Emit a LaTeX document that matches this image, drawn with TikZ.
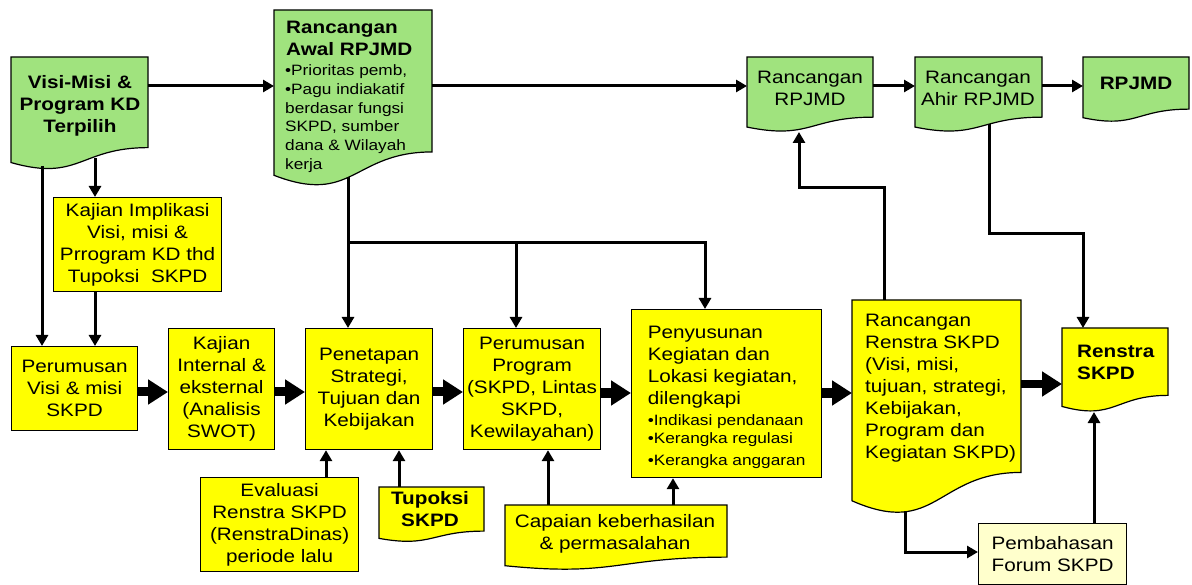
\documentclass[tikz,border=0pt]{standalone}
\usepackage{fontspec}
\setmainfont{Liberation Sans}[FakeStretch=1.15]
\usetikzlibrary{arrows.meta,calc,backgrounds}
\definecolor{docgreen}{RGB}{160,227,126}
\definecolor{boxyellow}{RGB}{255,255,0}
\definecolor{paleyellow}{RGB}{255,255,204}
\newcommand{\docoutline}[2]{%
  \path[outl, fill=#2] (#1.north west) -- (#1.north east)
   -- ($(#1.north east)!0.802!(#1.south east)$)
   .. controls ($(#1.north)!0.802!(#1.south)$) and ($(#1.north)!1.107!(#1.south)$) ..
   ($(#1.north west)!0.934!(#1.south west)$) -- cycle;}
\tikzset{
  outl/.style={draw=black, line width=1.2pt, line join=miter},
  docarea/.style={draw=none, fill=none, inner sep=0pt, outer sep=0pt, anchor=north west},
  txt/.style={inner sep=0pt, align=center, font=\fontsize{18}{22}\selectfont},
  btxt/.style={inner sep=0pt, align=center, font=\fontsize{18}{22}\selectfont\bfseries},
  stxt/.style={inner sep=0pt, align=left, font=\fontsize{15}{18.8}\selectfont},
  rbox/.style={draw=black, line width=1.2pt, fill=boxyellow, inner sep=0pt, anchor=north west,
    align=center, font=\fontsize{18}{22}\selectfont},
  arr/.style={line width=3pt, -{Triangle[length=11pt,width=12pt]}},
  ln/.style={line width=3pt},
  fat/.style={line width=9pt, -{Triangle[length=20pt,width=24pt]}},
}
\begin{document}
\begin{tikzpicture}[x=1pt,y=-1pt]
\useasboundingbox (0,0) rectangle (1192,585);
% document-shaped areas
\node[docarea, minimum width=137pt, minimum height=113pt] (visi) at (11,57) {};
\node[docarea, minimum width=158pt, minimum height=177pt] (awal) at (274,10) {};
\node[docarea, minimum width=126pt, minimum height=75pt] (rrpjmd) at (747,57) {};
\node[docarea, minimum width=127pt, minimum height=75pt] (ahir) at (915,57) {};
\node[docarea, minimum width=106pt, minimum height=65pt] (rpjmd) at (1083,57) {};
\node[docarea, minimum width=169pt, minimum height=215pt] (rrenstra) at (852,300) {};
\node[docarea, minimum width=106pt, minimum height=84pt] (renstra) at (1062,328) {};
\node[docarea, minimum width=105pt, minimum height=55pt] (tupoksi) at (379,487) {};
\node[docarea, minimum width=222pt, minimum height=65pt] (capaian) at (505,505) {};
\begin{pgfonlayer}{background}
  \fill[white] (0,0) rectangle (1192,585);
  \docoutline{visi}{docgreen}
  \docoutline{awal}{docgreen}
  \docoutline{rrpjmd}{docgreen}
  \docoutline{ahir}{docgreen}
  \docoutline{rpjmd}{docgreen}
  \docoutline{rrenstra}{boxyellow}
  \docoutline{renstra}{boxyellow}
  \docoutline{tupoksi}{boxyellow}
  \docoutline{capaian}{boxyellow}
\end{pgfonlayer}
% texts of document shapes
\node[btxt] (visi-t) at (80,106) {Visi-Misi \&\\Program KD\\Terpilih};
\node[btxt, align=left, anchor=north west] (awal-t1) at (286,20.5) {Rancangan\\Awal RPJMD};
\node[stxt, anchor=north west] (awal-t2) at (285,64.5) {•Prioritas pemb,\\•Pagu indiakatif\\berdasar fungsi\\SKPD, sumber\\dana \& Wilayah\\kerja};
\node[txt] (rrpjmd-t) at (810,88) {Rancangan\\RPJMD};
\node[txt] (ahir-t) at (978,88) {Rancangan\\Ahir RPJMD};
\node[btxt] (rpjmd-t) at (1136,83) {RPJMD};
\node[txt, align=left, anchor=north west] (rrenstra-t) at (865,313.5) {Rancangan\\Renstra SKPD\\(Visi, misi,\\tujuan, strategi,\\Kebijakan,\\Program dan\\Kegiatan SKPD)};
\node[btxt, align=left, anchor=north west] (renstra-t) at (1077,344.5) {Renstra\\SKPD};
\node[btxt] (tupoksi-t) at (430,509.5) {Tupoksi\\SKPD};
\node[txt] (capaian-t) at (615,534) {Capaian keberhasilan\\\& permasalahan};
% rectangular boxes
\node[rbox, minimum width=168pt, minimum height=94pt] (kimp) at (53,197) {Kajian Implikasi\\Visi, misi \&\\Prrogram KD thd\\Tupoksi\ \ SKPD};
\node[rbox, minimum width=126pt, minimum height=84pt] (pvisi) at (11,346) {Perumusan\\Visi \& misi\\SKPD};
\node[rbox, minimum width=106pt, minimum height=121pt] (kint) at (168,328) {Kajian\\Internal \&\\eksternal\\(Analisis\\SWOT)};
\node[rbox, minimum width=127pt, minimum height=121pt] (penet) at (305,328) {Penetapan\\Strategi,\\Tujuan dan\\Kebijakan};
\node[rbox, minimum width=137pt, minimum height=121pt] (prog) at (463,328) {Perumusan\\Program\\(SKPD, Lintas\\SKPD,\\Kewilayahan)};
\node[rbox, minimum width=190pt, minimum height=168pt, align=left] (penyu) at (631,309) {\rule{0pt}{20pt}Penyusunan\\Kegiatan dan\\Lokasi kegiatan,\\dilengkapi\\[-1pt]{\fontsize{15}{18}\selectfont •Indikasi pendanaan}\\[-4pt]{\fontsize{15}{18}\selectfont •Kerangka regulasi}\\[0pt]{\fontsize{15}{18}\selectfont •Kerangka anggaran}};
\node[rbox, minimum width=158pt, minimum height=94pt] (eval) at (200,477) {Evaluasi\\Renstra SKPD\\(RenstraDinas)\\periode lalu};
\node[rbox, fill=paleyellow, minimum width=148pt, minimum height=61pt] (pemb) at (978,523) {Pembahasan\\Forum SKPD};
% connectors, top row
\coordinate (yt) at (0,86);
\draw[arr] (visi.east |- yt) -- (awal.west |- yt);
\draw[arr] (awal.east |- yt) -- (rrpjmd.west |- yt);
\draw[arr] (rrpjmd.east |- yt) -- (ahir.west |- yt);
\draw[arr] (ahir.east |- yt) -- (rpjmd.west |- yt);
% left column
\coordinate (v1) at (95,158);
\coordinate (v2) at (42,166);
\draw[arr] (v1) -- (v1 |- kimp.north);
\draw[arr] (v2) -- (v2 |- pvisi.north);
\draw[arr] (v1 |- kimp.south) -- (v1 |- pvisi.north);
% thick arrows
\coordinate (ym) at (0,392);
\draw[fat] (pvisi.east |- ym) -- (kint.west |- ym);
\draw[fat] (kint.east |- ym) -- (penet.west |- ym);
\draw[fat] (penet.east |- ym) -- (prog.west |- ym);
\coordinate (ym2) at (0,393);
\draw[fat] (prog.east |- ym2) -- (penyu.west |- ym2);
\draw[fat] (penyu.east |- ym2) -- (rrenstra.west |- ym2);
\coordinate (yr) at (0,384);
\draw[fat, line width=8pt] (rrenstra.east |- yr) -- (renstra.west |- yr);
% from Rancangan Awal RPJMD
\coordinate (a1) at (348,177);
\coordinate (a2) at (348,243);
\coordinate (a3) at (516,243);
\coordinate (a4) at (705,243);
\draw[arr] (a1) -- (a1 |- penet.north);
\draw[arr] (a2) -| (a4 |- penyu.north);
\draw[arr] (a3) -- (a3 |- prog.north);
% Rancangan Renstra up to Rancangan RPJMD
\coordinate (r1) at (884,188);
\coordinate (r2) at (799,188);
\draw[arr] (r1 |- rrenstra.north) -- (r1) -- (r2) -- (r2 |- rrpjmd.south);
% Ahir RPJMD down to Renstra SKPD
\coordinate (h1) at (989,124);
\coordinate (h2) at (989,234);
\coordinate (h3) at (1083,234);
\draw[arr] (h1) -- (h2) -- (h3) -- (h3 |- renstra.north);
% Rancangan Renstra to Pembahasan, Pembahasan to Renstra
\coordinate (p1) at (905,512);
\coordinate (p2) at (905,552);
\draw[arr] (p1) -- (p2) -- (p2 -| pemb.west);
\coordinate (p3) at (1094,0);
\draw[arr] (p3 |- pemb.north) -- (p3 |- renstra.south);
% bottom inputs
\coordinate (e1) at (326,0);
\coordinate (t1) at (399,0);
\coordinate (c1) at (548,0);
\coordinate (c2) at (673,0);
\draw[arr] (e1 |- eval.north) -- (e1 |- penet.south);
\draw[arr] (t1 |- tupoksi.north) -- (t1 |- penet.south);
\draw[arr] (c1 |- capaian.north) -- (c1 |- prog.south);
\draw[arr] (c2 |- capaian.north) -- (c2 |- penyu.south);
\end{tikzpicture}
\end{document}
